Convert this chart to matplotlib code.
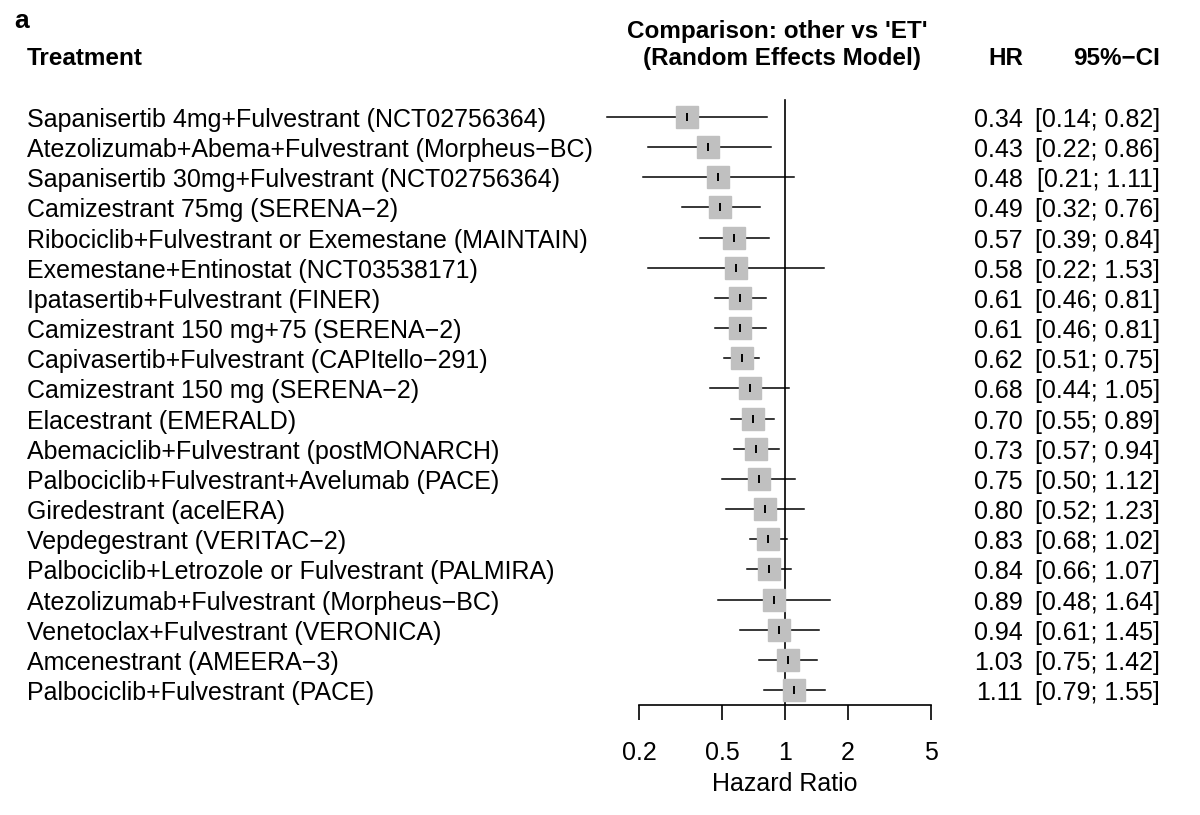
import matplotlib
matplotlib.use("Agg")
from matplotlib import pyplot as plt
from matplotlib import transforms as mtrans

# --- Data ---
treatments = [
    "Sapanisertib 4mg+Fulvestrant (NCT02756364)",
    "Atezolizumab+Abema+Fulvestrant (Morpheus\u2212BC)",
    "Sapanisertib 30mg+Fulvestrant (NCT02756364)",
    "Camizestrant 75mg (SERENA\u22122)",
    "Ribociclib+Fulvestrant or Exemestane (MAINTAIN)",
    "Exemestane+Entinostat (NCT03538171)",
    "Ipatasertib+Fulvestrant (FINER)",
    "Camizestrant 150 mg+75 (SERENA\u22122)",
    "Capivasertib+Fulvestrant (CAPItello\u2212291)",
    "Camizestrant 150 mg (SERENA\u22122)",
    "Elacestrant (EMERALD)",
    "Abemaciclib+Fulvestrant (postMONARCH)",
    "Palbociclib+Fulvestrant+Avelumab (PACE)",
    "Giredestrant (acelERA)",
    "Vepdegestrant (VERITAC\u22122)",
    "Palbociclib+Letrozole or Fulvestrant (PALMIRA)",
    "Atezolizumab+Fulvestrant (Morpheus\u2212BC)",
    "Venetoclax+Fulvestrant (VERONICA)",
    "Amcenestrant (AMEERA\u22123)",
    "Palbociclib+Fulvestrant (PACE)",
]
hr    = [0.34, 0.43, 0.48, 0.49, 0.57, 0.58, 0.61, 0.61, 0.62, 0.68,
         0.70, 0.73, 0.75, 0.80, 0.83, 0.84, 0.89, 0.94, 1.03, 1.11]
lower = [0.14, 0.22, 0.21, 0.32, 0.39, 0.22, 0.46, 0.46, 0.51, 0.44,
         0.55, 0.57, 0.50, 0.52, 0.68, 0.66, 0.48, 0.61, 0.75, 0.79]
upper = [0.82, 0.86, 1.11, 0.76, 0.84, 1.53, 0.81, 0.81, 0.75, 1.05,
         0.89, 0.94, 1.12, 1.23, 1.02, 1.07, 1.64, 1.45, 1.42, 1.55]
xticks      = [0.2, 0.5, 1, 2, 5]
xticklabels = ["0.2", "0.5", "1", "2", "5"]

# ---------------------------------------------------------
W, H = 1200, 815
plt.rcParams["font.family"] = ["Liberation Sans", "DejaVu Sans"]
fig = plt.figure(figsize=(W / 100, H / 100), dpi=100)

# forest axes: 0.1..10 on log scale, 209 px per decade centred on x=785
axL, axR = 576, 994
axT, axB = 95, 705
ax = fig.add_axes([axL / W, 1 - axB / H, (axR - axL) / W, (axB - axT) / H])
ax.set_xscale("log")
ax.set_xlim(0.1, 10)
n = len(treatments)
rowpx = 30.16
ax.set_ylim(1 - 15 / rowpx, n + 22 / rowpx)
ax.patch.set_alpha(0)

ys = [n - i for i in range(n)]

# reference line
ax.plot([1, 1], [0.5, n + 0.55], color="black", lw=1.2, zorder=1)

for y, h, lo, up in zip(ys, hr, lower, upper):
    ax.plot([lo, up], [y, y], color="black", lw=1.1, zorder=2, clip_on=False)
    ax.plot(h, y, marker="s", ms=16.5, color="#c0c0c0", mec="#c0c0c0", zorder=3, clip_on=False)
    ax.plot(h, y, marker="|", ms=6, mew=1.4, color="black", zorder=4, clip_on=False)

for side in ["top", "right", "left"]:
    ax.spines[side].set_visible(False)
ax.spines["bottom"].set_bounds(0.2, 5)
ax.spines["bottom"].set_linewidth(1.2)
ax.set_yticks([])
ax.set_xticks(xticks)
ax.set_xticklabels(xticklabels, fontsize=18)
ax.minorticks_off()
ax.tick_params(axis="x", direction="out", length=11, width=1.2, pad=15)
ax.set_xlabel("Hazard Ratio", fontsize=18, labelpad=5)

# text columns: x in figure pixels, y in row data units
trans = mtrans.blended_transform_factory(
    mtrans.Affine2D().scale(1 / W, 1) + fig.transFigure, ax.transData)
fs = 18
base = 10 / rowpx
for y, name, h, lo, up in zip(ys, treatments, hr, lower, upper):
    ax.text(27, y - base, name, transform=trans, fontsize=fs, ha="left", va="baseline")
    ax.text(1023, y - base, "%.2f" % h, transform=trans, fontsize=fs, ha="right", va="baseline")
    ax.text(1160, y - base, "[%.2f; %.2f]" % (lo, up), transform=trans, fontsize=fs,
            ha="right", va="baseline")

# headers
def figtext(x, y, s, **kw):
    fig.text(x / W, 1 - y / H, s, va="baseline", **kw)

hfs = 17.5
figtext(14, 28, "a", fontsize=19, weight="bold")
figtext(27, 65, "Treatment", fontsize=hfs, weight="bold")
figtext(777, 38, "Comparison: other vs 'ET'", fontsize=hfs, weight="bold", ha="center")
figtext(782, 65, "(Random Effects Model)", fontsize=hfs, weight="bold", ha="center")
figtext(1023, 65, "HR", fontsize=hfs, weight="bold", ha="right")
figtext(1160, 65, "95%\u2212CI", fontsize=hfs, weight="bold", ha="right")

fig.savefig("out.png", dpi=100)
